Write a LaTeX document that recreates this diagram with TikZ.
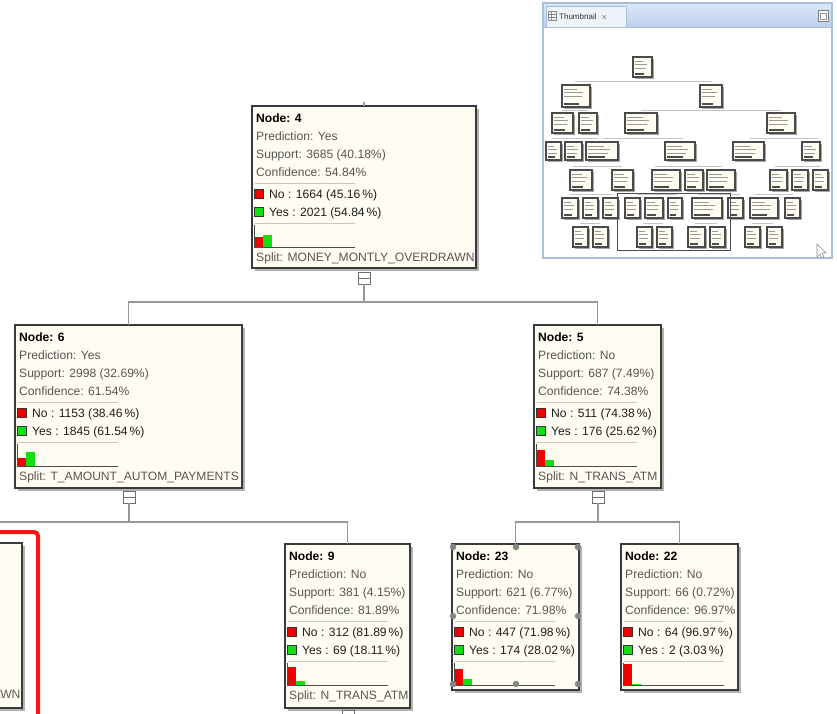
\documentclass[tikz,border=0pt]{standalone}
\usepackage{fontspec}
\setmainfont{Liberation Sans}
\usetikzlibrary{calc}

\definecolor{boxfill}{HTML}{FFFDF1}
\definecolor{boxedge}{HTML}{3A3A3A}
\definecolor{shadowgrey}{HTML}{B2B2B2}
\definecolor{dtgrey}{HTML}{555555}
\definecolor{dtdark}{HTML}{1E1E1E}
\definecolor{sepgrey}{HTML}{C6C6C6}
\definecolor{conngrey}{HTML}{979797}
\definecolor{togglegrey}{HTML}{6E6E6E}
\definecolor{nored}{HTML}{F00000}
\definecolor{yesgreen}{HTML}{10E010}
\definecolor{hilite}{HTML}{FF1212}
\definecolor{handlegrey}{HTML}{858585}
\definecolor{panelborder}{HTML}{A9BFDC}
\definecolor{paneltop}{HTML}{DCE8F7}
\definecolor{panelbot}{HTML}{BBD0EC}
\definecolor{tabfill}{HTML}{EEF3FA}
\definecolor{thumbedge}{HTML}{4A4A4A}
\definecolor{thumbline}{HTML}{C4C4C4}

\newcommand\dtfont{\fontsize{12.1}{14}\selectfont}

\tikzset{
  dtbox/.style={draw=boxedge, line width=1.4pt, fill=boxfill, inner sep=0pt, outer sep=0pt},
  dttitle/.style={anchor=base west, inner sep=0pt, font=\dtfont\bfseries, text=black},
  dtgray/.style={anchor=base west, inner sep=0pt, font=\dtfont, text=dtgrey},
  dttext/.style={anchor=base west, inner sep=0pt, font=\dtfont, text=dtdark},
  dtsep/.style={draw=sepgrey, line width=1pt},
  legbox/.style={draw=black!80, line width=0.8pt},
  axisline/.style={draw=black!70, line width=0.8pt},
  conn/.style={draw=conngrey, line width=1.8pt},
  toggle/.style={draw=togglegrey, line width=1pt, fill=white, minimum size=12pt,
    inner sep=0pt, outer sep=0pt,
    path picture={\draw[togglegrey, line width=0.8pt]
      (path picture bounding box.west) -- (path picture bounding box.east);}},
  handle/.style={fill=handlegrey, circle, inner sep=0pt, minimum size=6.5pt},
  thumbbox/.style={draw=thumbedge, line width=1.2pt, fill=boxfill},
  thumbtext/.style={draw=black!40, line width=0.7pt},
  thumbconn/.style={draw=thumbline, line width=0.9pt},
}

% Decision-tree box with its drop shadow: name, left, top, width, height
\newcommand\DTBox[5]{%
  \fill[shadowgrey] (#2+3,#3+3) rectangle (#2+#4+3,#3+#5+3);
  \node[dtbox, minimum width=#4pt, minimum height=#5pt, anchor=north west] (#1) at (#2,#3) {};
}

% Statistics block: name, id, prediction, support, confidence, no line, yes line, no share, yes share
\newcommand\DTStats[9]{%
  \begin{scope}[shift={(#1.north west)}]
    \node[dttitle] (#1-id) at (4,16.5) {Node: #2};
    \node[dtgray] (#1-pred) at (4,34.5) {Prediction: #3};
    \node[dtgray] (#1-sup) at (4,52.5) {Support: #4};
    \node[dtgray] (#1-conf) at (4,70) {Confidence: #5};
    \draw[dtsep] (3,77) -- (103,77);
    \draw[legbox, fill=nored] (2.5,83) rectangle (11,92);
    \node[dttext] (#1-no) at (17,92) {No : #6};
    \draw[legbox, fill=yesgreen] (2.5,101) rectangle (11,110);
    \node[dttext] (#1-yes) at (17,110) {Yes : #7};
    \draw[dtsep] (3,117) -- (103,117);
    \fill[nored] (2.5,141) rectangle (11,{141-22*#8});
    \fill[yesgreen] (11,141) rectangle (20,{141-22*#9});
    \draw[axisline] (2.5,119) -- (2.5,141.5) -- (103,141.5);
  \end{scope}
}

% Split attribute line at the bottom of an inner node
\newcommand\DTSplit[2]{%
  \begin{scope}[shift={(#1.north west)}]
    \node[dtgray] (#1-split) at (4,155) {Split: #2};
  \end{scope}
}

\begin{document}
\begin{tikzpicture}[x=1pt,y=-1pt]
\useasboundingbox (0,0) rectangle (837,713);
\clip (0,0) rectangle (837,713);
\fill[white] (0,0) rectangle (837,713);

% ---------- tree boxes ----------
\DTBox{n4}{252}{106}{224}{162}
\DTStats{n4}{4}{Yes}{3685 (40.18\%)}{54.84\%}{1664 (45.16\,\%)}{2021 (54.84\,\%)}{0.4516}{0.5484}
\DTSplit{n4}{MONEY\_MONTLY\_OVERDRAWN}

\DTBox{n6}{15}{325}{227}{163}
\DTStats{n6}{6}{Yes}{2998 (32.69\%)}{61.54\%}{1153 (38.46\,\%)}{1845 (61.54\,\%)}{0.3846}{0.6154}
\DTSplit{n6}{T\_AMOUNT\_AUTOM\_PAYMENTS}

\DTBox{n5}{534}{325}{127}{163}
\DTStats{n5}{5}{No}{687 (7.49\%)}{74.38\%}{511 (74.38\,\%)}{176 (25.62\,\%)}{0.7438}{0.2562}
\DTSplit{n5}{N\_TRANS\_ATM}

\DTBox{nL}{-202}{543}{224}{165}
\DTSplit{nL}{MONEY\_MONTLY\_OVERDRAWN}

\DTBox{n9}{285}{544}{125}{164}
\DTStats{n9}{9}{No}{381 (4.15\%)}{81.89\%}{312 (81.89\,\%)}{69 (18.11\,\%)}{0.8189}{0.1811}
\DTSplit{n9}{N\_TRANS\_ATM}

\DTBox{n23}{452}{544}{127}{146}
\DTStats{n23}{23}{No}{621 (6.77\%)}{71.98\%}{447 (71.98\,\%)}{174 (28.02\,\%)}{0.7198}{0.2802}

\DTBox{n22}{621}{544}{117}{146}
\DTStats{n22}{22}{No}{66 (0.72\%)}{96.97\%}{64 (96.97\,\%)}{2 (3.03\,\%)}{0.9697}{0.0303}

% ---------- expand/collapse toggles and connectors ----------
\node[toggle] (t4) at (364,278) {};
\node[toggle] (t6) at (129,497) {};
\node[toggle] (t5) at (598,497) {};
\node[toggle] (t9) at (348,716) {};

\coordinate (b4) at (364,302);
\coordinate (b6) at (129,522);
\coordinate (b5) at (598,522);
\coordinate (in4) at (364,102);

\draw[conn] (in4) -- (n4.north);
\draw[conn] (t4.south) -- (b4) -| (n6.north);
\draw[conn] (b4) -| (n5.north);
\draw[conn] (t6.south) -- (b6) -| (n9.north);
\draw[conn] (b6) -| (nL.north);
\draw[conn] (t5.south) -- (b5) -| (n23.north);
\draw[conn] (b5) -| (n22.north);

% selection handles of the focused box
\foreach \hx/\hy in {453/547,516/547,578/547,453/616,578/616,453/684,516/684,578/684}
  \node[handle] at (\hx,\hy) {};

% highlight frame around the left subtree
\draw[hilite, line width=4pt, rounded corners=4pt] (-60,532) -- (38,532) -- (38,740);

% ---------- thumbnail panel ----------
\fill[white] (543,3) rectangle (832,258);
\shade[top color=paneltop, bottom color=panelbot] (543,3) rectangle (832,27);
\fill[tabfill] (546,6) rectangle (626,27);
\draw[panelborder, line width=0.8pt] (546,27) -- (546,6) -- (626,6) -- (626,27);
\draw[black!45, line width=0.6pt] (548,11) rectangle (556,20);
\draw[black!45, line width=0.5pt] (548,14) -- (556,14) (548,17) -- (556,17) (551,11) -- (551,20);
\node[anchor=base west, inner sep=0pt, font=\fontsize{8}{9}\selectfont, text=black!80] (thumbtitle) at (559,19) {Thumbnail \ $\times$};
\draw[black!50, line width=0.7pt, fill=white!90!paneltop] (818,10) rectangle (828,21);
\draw[black!40, line width=0.5pt] (820,13) rectangle (826,19);
\draw[panelborder, line width=2pt] (543,3) rectangle (832,258);
\draw[panelborder, line width=1pt] (543,27) -- (832,27);

% miniature connectors
\foreach \ya/\xa/\xb in {81/575/712, 110/562/588, 110/641/781, 138/552/598, 138/603/683,
  138/750/818, 166/573/622, 166/655/722, 166/775/820, 194/570/612, 194/637/677,
  194/698/740, 194/755/793, 223/580/600, 223/643/663, 223/695/717, 223/752/773}
  \draw[thumbconn] (\xa,\ya) -- (\xb,\ya);

% miniature boxes
\foreach \xa/\ya/\xb/\yb in {633/57/652/77,
  562/85/590/107, 700/85/722/107,
  552/113/573/133, 579/113/597/133, 625/113/657/133, 767/113/795/133,
  546/142/561/160, 565/142/582/160, 586/142/618/160, 665/142/695/160, 733/142/764/160, 802/142/820/160,
  570/170/592/190, 612/170/633/190, 652/170/680/190, 685/170/703/190, 707/170/735/190,
  770/170/787/190, 792/170/808/190, 813/170/828/190,
  562/198/578/218, 583/198/598/218, 603/198/618/218, 625/198/640/218, 645/198/663/218,
  668/198/682/218, 692/198/722/218, 728/198/743/218, 750/198/778/218, 785/198/800/218,
  573/227/588/247, 593/227/608/247, 637/227/652/247, 657/227/672/247, 688/227/705/247,
  710/227/725/247, 745/227/760/247, 767/227/782/247}
{
  \fill[black!35] (\xa+1.5,\ya+1.5) rectangle (\xb+1.5,\yb+1.5);
  \draw[thumbbox] (\xa,\ya) rectangle (\xb,\yb);
  \draw[thumbtext] (\xa+2,\ya+4) -- ({\xa+0.55*(\xb-\xa)},\ya+4)
                   (\xa+2,\ya+7.5) -- ({\xa+0.75*(\xb-\xa)},\ya+7.5)
                   (\xa+2,\ya+11) -- ({\xa+0.7*(\xb-\xa)},\ya+11);
  \fill[black!70] (\xa+1.5,\yb-4) rectangle ({\xa+0.6*(\xb-\xa)},\yb-2);
}

% viewport frame in the miniature
\draw[black!70, line width=1pt] (617,193) rectangle (730,250);

% resize pointer in the corner
\draw[black!45, fill=white, line width=0.6pt] (817,244) -- (817,257) -- (820,254) -- (822,258) -- (824,257) -- (822,253) -- (826,253) -- cycle;
\end{tikzpicture}
\end{document}
